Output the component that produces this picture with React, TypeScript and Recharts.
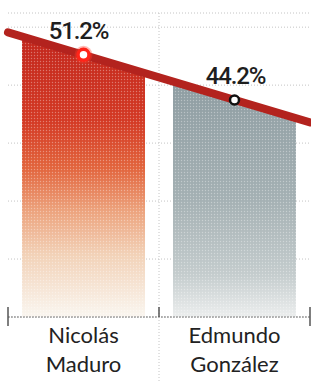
import React from "react";
import {
  ComposedChart,
  Bar,
  Cell,
  Line,
  LabelList,
  XAxis,
  YAxis,
  CartesianGrid,
  ReferenceLine,
} from "recharts";

const NAME_LINES = [
  ["Nicolás", "Maduro"],
  ["Edmundo", "González"],
];
const VOTE_SHARE = [51.2, 44.2];
const BAR_FILLS = ["url(#maduroFade)", "url(#gonzalezFade)"];
const GRID_TICKS = [19.5, 28.5, 37.5, 46.5, 55.5];
const X_TICKS = [-0.5, 0, 0.5, 1, 1.5];

const W = 311;
const H = 381;
const MARGIN = { top: 13, right: 1, bottom: 0, left: 8 };
const X_MIN = -0.5;
const X_MAX = 1.5;
const Y_MIN = 10.5;
const Y_MAX = 57.7;
const PX_PER_CAT = (W - MARGIN.left - MARGIN.right) / (X_MAX - X_MIN);

const data = VOTE_SHARE.map((share, i) => ({ pos: i, share }));

// trend line through both results, carried out to the plot edges
const drop = VOTE_SHARE[0] - VOTE_SHARE[1];
const trend = [
  { x: X_MIN, y: VOTE_SHARE[0] + drop * (0 - X_MIN) },
  { x: X_MAX, y: VOTE_SHARE[1] - drop * (X_MAX - 1) },
];

// bar whose top follows the trend line, with a print-like dot screen on top
function SlantedBar(props: any) {
  const { x, y, width, height, fill, payload } = props;
  if (!height) return null;
  const pxPerUnit = height / (payload.share - Y_MIN);
  const k = (drop * pxPerUnit) / PX_PER_CAT;
  const base = y + height;
  const pts = [
    [x, y - (k * width) / 2],
    [x + width, y + (k * width) / 2],
    [x + width, base],
    [x, base],
  ]
    .map((p) => p.join(","))
    .join(" ");
  return (
    <g>
      <polygon points={pts} fill={fill} />
      <polygon points={pts} fill="url(#halftone)" />
    </g>
  );
}

function ResultDot(props: any) {
  const { cx, cy, index } = props;
  if (index === 0) {
    return (
      <g key={`d${index}`}>
        <circle cx={cx} cy={cy} r={9} fill="#ff3b2a" opacity={0.35} />
        <circle cx={cx} cy={cy} r={5.5} fill="#fff" stroke="#ff2419" strokeWidth={3.5} />
      </g>
    );
  }
  return (
    <circle key={`d${index}`} cx={cx} cy={cy} r={4.5} fill="#fff" stroke="#111" strokeWidth={2.5} />
  );
}

function ShareLabel(props: any) {
  const { x, y, value, index } = props;
  return (
    <text
      x={x + (index === 0 ? -5 : 1)}
      y={y - 16}
      textAnchor="middle"
      fontFamily="Roboto, sans-serif"
      fontWeight={500}
      fontSize={24}
      letterSpacing={-1.2}
      fill="#1e1e1e"
    >
      {value.toFixed(1)}%
    </text>
  );
}

function AxisTick(props: any) {
  const { x, y, payload } = props;
  const v = payload.value;
  if (v === 0 || v === 1) {
    const lines = NAME_LINES[v];
    return (
      <text
        x={x}
        textAnchor="middle"
        fontFamily="Lato, sans-serif"
        fontSize={22}
        fill="#222"
      >
        <tspan x={x} y={y + 26}>
          {lines[0]}
        </tspan>
        <tspan x={x} y={y + 55}>
          {lines[1]}
        </tspan>
      </text>
    );
  }
  if (v === 0.5) {
    return (
      <g>
        <line x1={x} x2={x} y1={y - 10} y2={y} stroke="#555" strokeWidth={1.5} />
        <line x1={x} x2={x} y1={y} y2={y + 64} stroke="#c4c4c4" strokeDasharray="1 2" />
      </g>
    );
  }
  return <line x1={x} x2={x} y1={y - 10} y2={y + 9} stroke="#555" strokeWidth={1.5} />;
}

export default function App() {
  return (
    <div style={{ position: "absolute", left: 0, top: 0, width: W, height: H, background: "#fff" }}>
      <ComposedChart width={W} height={H} data={data} margin={MARGIN}>
        <defs>
          <linearGradient id="maduroFade" x1="0" y1="0" x2="0" y2="1">
            <stop offset="0%" stopColor="#c2271d" />
            <stop offset="30%" stopColor="#d33924" />
            <stop offset="47%" stopColor="#e2653d" />
            <stop offset="62%" stopColor="#eca27c" />
            <stop offset="78%" stopColor="#f2d2b8" />
            <stop offset="100%" stopColor="#faf6f0" />
          </linearGradient>
          <linearGradient id="gonzalezFade" x1="0" y1="0" x2="0" y2="1">
            <stop offset="0%" stopColor="#8e9da2" />
            <stop offset="50%" stopColor="#a4b0b3" />
            <stop offset="82%" stopColor="#c4cccd" />
            <stop offset="100%" stopColor="#eceeee" />
          </linearGradient>
          <pattern id="halftone" width="3" height="3" patternUnits="userSpaceOnUse">
            <circle cx="1.5" cy="1.5" r="0.7" fill="#fff" opacity={0.35} />
          </pattern>
        </defs>
        <CartesianGrid vertical={false} stroke="#c4c4c4" strokeDasharray="1 2" />
        <XAxis
          dataKey="pos"
          type="number"
          domain={[X_MIN, X_MAX]}
          ticks={X_TICKS}
          interval={0}
          height={64}
          tickLine={false}
          tickSize={0}
          tickMargin={0}
          tick={<AxisTick />}
          axisLine={{ stroke: "#7a7a7a", strokeDasharray: "2 1" }}
        />
        <YAxis hide type="number" domain={[Y_MIN, Y_MAX]} ticks={GRID_TICKS} />
        <ReferenceLine x={0.5} stroke="#c4c4c4" strokeDasharray="1 2" />
        <Bar dataKey="share" barSize={123} shape={<SlantedBar />} isAnimationActive={false}>
          {data.map((d, i) => (
            <Cell key={d.pos} fill={BAR_FILLS[i]} />
          ))}
        </Bar>
        <ReferenceLine
          segment={trend}
          ifOverflow="visible"
          stroke="#b3231e"
          strokeWidth={8}
          strokeLinecap="round"
        />
        <Line
          dataKey="share"
          stroke="none"
          dot={<ResultDot />}
          activeDot={false}
          isAnimationActive={false}
        >
          <LabelList dataKey="share" content={<ShareLabel />} />
        </Line>
      </ComposedChart>
    </div>
  );
}
